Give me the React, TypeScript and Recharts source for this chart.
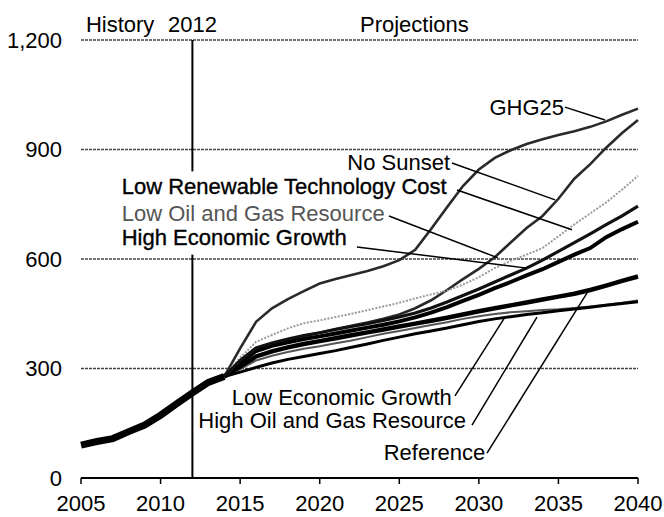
import React from "react";
import { LineChart, Line, XAxis, YAxis, CartesianGrid, ReferenceLine, ReferenceDot } from "recharts";

// ---- data (billion kWh) ----
const years = [2005, 2006, 2007, 2008, 2009, 2010, 2011, 2012, 2013, 2014, 2015, 2016, 2017, 2018, 2019, 2020, 2021, 2022, 2023, 2024, 2025, 2026, 2027, 2028, 2029, 2030, 2031, 2032, 2033, 2034, 2035, 2036, 2037, 2038, 2039, 2040];
// history 2005-2014
const historyVals = [90, 100, 108, 127, 145, 172, 203, 233, 262, 278];
// projections 2014-2040
const ghg25 = [278, 355, 428, 465, 490, 512, 533, 545, 556, 567, 580, 597, 625, 682, 742, 800, 845, 877, 898, 915, 928, 940, 950, 962, 977, 995, 1012];
const noSunset = [278, 318, 350, 366, 378, 390, 398, 408, 417, 426, 436, 448, 465, 487, 515, 545, 573, 605, 645, 685, 718, 765, 820, 860, 905, 945, 981];
const lowOilGas = [278, 330, 373, 392, 410, 424, 432, 441, 450, 460, 470, 480, 492, 503, 513, 530, 550, 575, 595, 612, 630, 662, 695, 725, 755, 790, 828];
const lowRenewCost = [278, 322, 356, 370, 381, 390, 398, 407, 415, 423, 432, 441, 452, 466, 482, 500, 518, 537, 556, 575, 597, 621, 645, 669, 694, 718, 745];
const highEconGrowth = [278, 315, 348, 362, 372, 381, 388, 396, 404, 412, 420, 429, 440, 453, 468, 485, 502, 520, 537, 555, 572, 592, 612, 630, 660, 682, 702];
const reference = [278, 305, 333, 347, 358, 367, 375, 383, 391, 399, 407, 415, 423, 431, 439, 448, 457, 465, 473, 481, 489, 497, 505, 515, 527, 540, 552];
const highOilGas = [278, 298, 322, 335, 345, 354, 361, 369, 377, 386, 395, 403, 411, 419, 427, 436, 443, 449, 454, 457, 460, 462, 466, 470, 475, 480, 486];
const lowEconGrowth = [278, 290, 303, 315, 325, 333, 341, 349, 358, 367, 377, 386, 395, 403, 411, 420, 429, 436, 442, 448, 453, 458, 463, 468, 473, 478, 483];

const xTicks = [2005, 2010, 2015, 2020, 2025, 2030, 2035, 2040];
const yTicks = [0, 300, 600, 900, 1200];
const historyEnd = 2012;
const PROJ_START = 9; // index of 2014

const data = years.map((year, i) => ({
  year,
  history: i < historyVals.length ? historyVals[i] : null,
  ghg25: i >= PROJ_START ? ghg25[i - PROJ_START] : null,
  noSunset: i >= PROJ_START ? noSunset[i - PROJ_START] : null,
  lowOilGas: i >= PROJ_START ? lowOilGas[i - PROJ_START] : null,
  lowRenewCost: i >= PROJ_START ? lowRenewCost[i - PROJ_START] : null,
  highEconGrowth: i >= PROJ_START ? highEconGrowth[i - PROJ_START] : null,
  reference: i >= PROJ_START ? reference[i - PROJ_START] : null,
  highOilGas: i >= PROJ_START ? highOilGas[i - PROJ_START] : null,
  lowEconGrowth: i >= PROJ_START ? lowEconGrowth[i - PROJ_START] : null,
}));

// ---- annotations (in data coordinates) ----
type Note = { text: string; x: number; y: number; anchor: "start" | "middle" | "end"; color?: string; heavy?: boolean };
const notes: Note[] = [
  { text: "History", x: 2005.31, y: 1222, anchor: "start" },
  { text: "2012", x: 2012, y: 1222, anchor: "middle" },
  { text: "Projections", x: 2022.53, y: 1222, anchor: "start" },
  { text: "GHG25", x: 2035.35, y: 994, anchor: "end" },
  { text: "No Sunset", x: 2028.19, y: 844, anchor: "end" },
  { text: "Low Renewable Technology Cost", x: 2007.56, y: 778, anchor: "start", heavy: true },
  { text: "Low Oil and Gas Resource", x: 2007.56, y: 704, anchor: "start", color: "#555" },
  { text: "High Economic Growth", x: 2007.56, y: 638, anchor: "start", heavy: true },
  { text: "Low Economic Growth", x: 2014.47, y: 200, anchor: "start" },
  { text: "High Oil and Gas Resource", x: 2012.37, y: 137, anchor: "start" },
  { text: "Reference", x: 2024.02, y: 49, anchor: "start" },
];

type Pointer = [number, number, number, number];
const pointers: Pointer[] = [
  [2035.41, 1016, 2037.93, 981],
  [2028.31, 863, 2034.79, 762],
  [2028.63, 789, 2035.85, 680],
  [2024.35, 718, 2031.2, 603],
  [2022.34, 633, 2033.03, 575],
  [2028.5, 225, 2031.64, 441],
  [2029.57, 145, 2033.65, 441],
  [2030.51, 68, 2036.8, 507],
];

// the 2012 divider is interrupted where the left-hand labels sit
const dividerParts: [number, number][] = [
  [1200, 840],
  [612, 0],
];

const FONT = "'Liberation Sans', Arial, Helvetica, sans-serif";

export default function App() {
  return (
    <div style={{ position: "absolute", left: 0, top: 0, width: 664, height: 517, background: "#fff", fontFamily: FONT }}>
      <LineChart width={664} height={517} data={data} margin={{ top: 40, right: 26, left: 11, bottom: 0 }}>
        <CartesianGrid vertical={false} stroke="#444" strokeWidth={1.3} strokeDasharray="3 1" />
        <XAxis
          dataKey="year"
          type="number"
          domain={[2005, 2040]}
          ticks={xTicks}
          height={39}
          axisLine={{ stroke: "#000", strokeWidth: 2 }}
          tickLine={{ stroke: "#000", strokeWidth: 1.5 }}
          tickSize={6}
          tickMargin={11}
          tick={{ fontSize: 22, fill: "#000", fontFamily: FONT }}
        />
        <YAxis
          domain={[0, 1200]}
          ticks={yTicks}
          width={70}
          axisLine={false}
          tickLine={false}
          tickSize={0}
          tickMargin={19}
          tick={{ fontSize: 22, fill: "#000", fontFamily: FONT }}
          tickFormatter={(v: number) => v.toLocaleString("en-US")}
        />
        {dividerParts.map((d, i) => (
          <ReferenceLine
            key={"d" + i}
            segment={[{ x: historyEnd, y: d[0] }, { x: historyEnd, y: d[1] }]}
            stroke="#000"
            strokeWidth={2}
            ifOverflow="visible"
          />
        ))}
        <Line dataKey="ghg25" stroke="#2a2a2a" strokeWidth={2.6} dot={false} activeDot={false} isAnimationActive={false} />
        <Line dataKey="noSunset" stroke="#2a2a2a" strokeWidth={2.6} dot={false} activeDot={false} isAnimationActive={false} />
        <Line dataKey="lowOilGas" stroke="#9a9a9a" strokeWidth={2} strokeDasharray="2 1.5" dot={false} activeDot={false} isAnimationActive={false} />
        <Line dataKey="highOilGas" stroke="#555" strokeWidth={2} dot={false} activeDot={false} isAnimationActive={false} />
        <Line dataKey="lowEconGrowth" stroke="#000" strokeWidth={3} dot={false} activeDot={false} isAnimationActive={false} />
        <Line dataKey="reference" stroke="#000" strokeWidth={4.5} dot={false} activeDot={false} isAnimationActive={false} />
        <Line dataKey="highEconGrowth" stroke="#000" strokeWidth={4} dot={false} activeDot={false} isAnimationActive={false} />
        <Line dataKey="lowRenewCost" stroke="#111" strokeWidth={3.2} dot={false} activeDot={false} isAnimationActive={false} />
        <Line dataKey="history" stroke="#000" strokeWidth={7} dot={false} activeDot={false} isAnimationActive={false} />
        {pointers.map((p, i) => (
          <ReferenceLine
            key={"p" + i}
            segment={[{ x: p[0], y: p[1] }, { x: p[2], y: p[3] }]}
            stroke="#000"
            strokeWidth={1.5}
            ifOverflow="visible"
          />
        ))}
        {notes.map((n, i) => (
          <ReferenceDot
            key={"n" + i}
            x={n.x}
            y={n.y}
            r={0}
            ifOverflow="visible"
            shape={(props: any) => (
              <text
                x={props.cx}
                y={props.cy}
                textAnchor={n.anchor}
                fontSize={22}
                fontFamily={FONT}
                fill={n.color || "#000"}
                stroke={n.heavy ? "#000" : "none"}
                strokeWidth={n.heavy ? 0.35 : 0}
              >
                {n.text}
              </text>
            )}
          />
        ))}
      </LineChart>
    </div>
  );
}
